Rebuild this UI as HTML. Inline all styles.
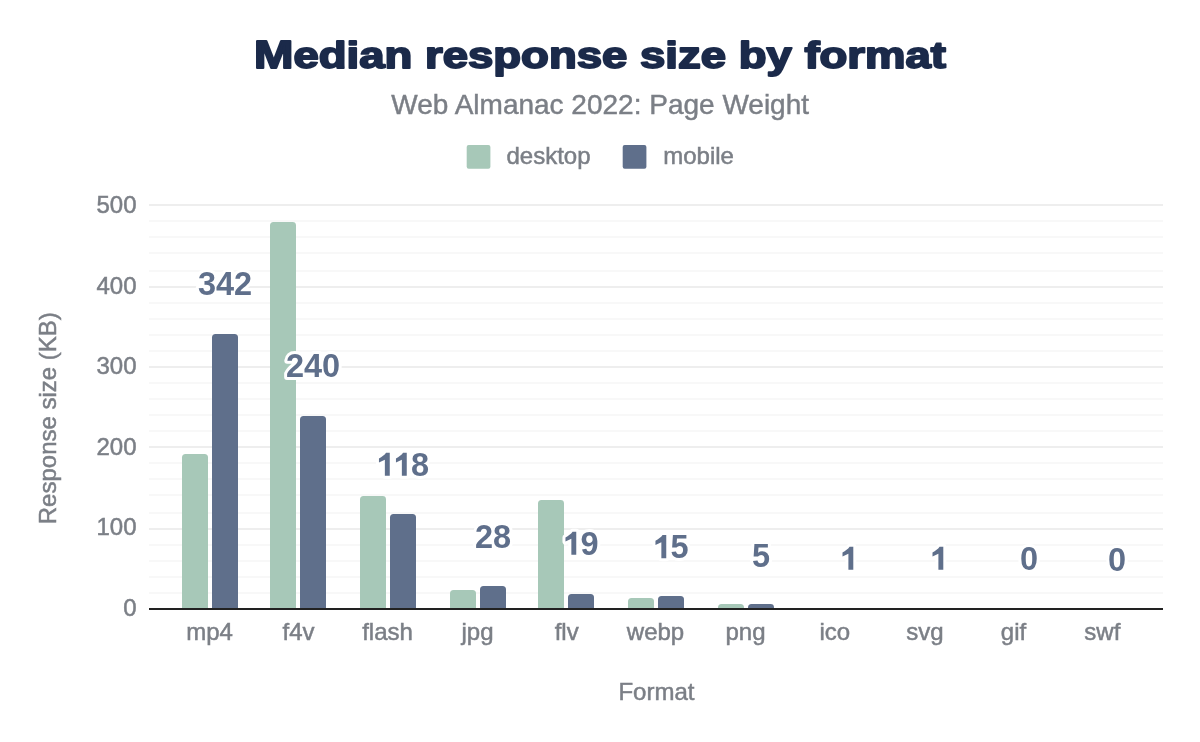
<!DOCTYPE html>
<html><head><meta charset="utf-8"><style>
html,body{margin:0;padding:0;background:#fff;width:1200px;height:742px;overflow:hidden}
svg{display:block;will-change:transform}
text{font-family:"Liberation Sans",sans-serif}
.title{font-weight:bold;font-size:37.5px;fill:#1b2a4a;stroke:#1b2a4a;stroke-width:1.9px;stroke-linejoin:round}
.sub{font-size:28px;fill:#7b7f86;stroke:#7b7f86;stroke-width:0.45px}
.ax{font-size:24px;fill:#7b7f86;stroke:#7b7f86;stroke-width:0.5px}
.dl{font-weight:bold;font-size:33px}
.dlh{fill:none;stroke:#fff;stroke-width:6px;stroke-linejoin:round}
.dlf{fill:#5f6f8b;stroke:none}
.dlh .hid{stroke:none} .dlf .hid{fill:none}
.oneh{fill:none;stroke:#fff;stroke-width:6px;stroke-linejoin:round}
.onef{fill:#5f6f8b}
</style></head><body>
<svg width="1200" height="742" viewBox="0 0 1200 742">
<rect width="1200" height="742" fill="#fff"/>
<text x="600" y="68.4" class="title" text-anchor="middle" textLength="692" lengthAdjust="spacingAndGlyphs"><tspan style="font-size:39px">M</tspan>edian response size by format</text>
<text transform="translate(600.2,114.3) scale(1,1)" text-anchor="middle" class="sub">Web Almanac 2022: Page Weight</text>
<rect x="466.7" y="145" width="23.7" height="23.7" rx="2" fill="#a7c8b8"/>
<text transform="translate(506.5,163.6) scale(1,1)" text-anchor="start" class="ax">desktop</text>
<rect x="622.7" y="145" width="23.7" height="23.7" rx="2" fill="#5f6f8b"/>
<text transform="translate(663.2,163.6) scale(1,1)" text-anchor="start" class="ax">mobile</text>
<rect x="149" y="592" width="1014" height="2" fill="#f8f8f8"/><rect x="149" y="576" width="1014" height="2" fill="#f8f8f8"/><rect x="149" y="560" width="1014" height="2" fill="#f8f8f8"/><rect x="149" y="544" width="1014" height="2" fill="#f8f8f8"/><rect x="149" y="528" width="1014" height="2" fill="#eeeeee"/><rect x="149" y="512" width="1014" height="2" fill="#f8f8f8"/><rect x="149" y="494" width="1014" height="2" fill="#f8f8f8"/><rect x="149" y="478" width="1014" height="2" fill="#f8f8f8"/><rect x="149" y="462" width="1014" height="2" fill="#f8f8f8"/><rect x="149" y="446" width="1014" height="2" fill="#eeeeee"/><rect x="149" y="430" width="1014" height="2" fill="#f8f8f8"/><rect x="149" y="414" width="1014" height="2" fill="#f8f8f8"/><rect x="149" y="398" width="1014" height="2" fill="#f8f8f8"/><rect x="149" y="382" width="1014" height="2" fill="#f8f8f8"/><rect x="149" y="366" width="1014" height="2" fill="#eeeeee"/><rect x="149" y="350" width="1014" height="2" fill="#f8f8f8"/><rect x="149" y="334" width="1014" height="2" fill="#f8f8f8"/><rect x="149" y="318" width="1014" height="2" fill="#f8f8f8"/><rect x="149" y="302" width="1014" height="2" fill="#f8f8f8"/><rect x="149" y="286" width="1014" height="2" fill="#eeeeee"/><rect x="149" y="270" width="1014" height="2" fill="#f8f8f8"/><rect x="149" y="252" width="1014" height="2" fill="#f8f8f8"/><rect x="149" y="236" width="1014" height="2" fill="#f8f8f8"/><rect x="149" y="220" width="1014" height="2" fill="#f8f8f8"/><rect x="149" y="204" width="1014" height="2" fill="#eeeeee"/>
<path d="M182,608 V457.5 A3.5,3.5 0 0 1 185.5,454 H204.5 A3.5,3.5 0 0 1 208,457.5 V608 Z" fill="#a7c8b8"/><path d="M212,608 V337.5 A3.5,3.5 0 0 1 215.5,334 H234.5 A3.5,3.5 0 0 1 238,337.5 V608 Z" fill="#5f6f8b"/><path d="M270,608 V225.5 A3.5,3.5 0 0 1 273.5,222 H292.5 A3.5,3.5 0 0 1 296,225.5 V608 Z" fill="#a7c8b8"/><path d="M300,608 V419.5 A3.5,3.5 0 0 1 303.5,416 H322.5 A3.5,3.5 0 0 1 326,419.5 V608 Z" fill="#5f6f8b"/><path d="M360,608 V499.5 A3.5,3.5 0 0 1 363.5,496 H382.5 A3.5,3.5 0 0 1 386,499.5 V608 Z" fill="#a7c8b8"/><path d="M390,608 V517.5 A3.5,3.5 0 0 1 393.5,514 H412.5 A3.5,3.5 0 0 1 416,517.5 V608 Z" fill="#5f6f8b"/><path d="M450,608 V593.5 A3.5,3.5 0 0 1 453.5,590 H472.5 A3.5,3.5 0 0 1 476,593.5 V608 Z" fill="#a7c8b8"/><path d="M480,608 V589.5 A3.5,3.5 0 0 1 483.5,586 H502.5 A3.5,3.5 0 0 1 506,589.5 V608 Z" fill="#5f6f8b"/><path d="M538,608 V503.5 A3.5,3.5 0 0 1 541.5,500 H560.5 A3.5,3.5 0 0 1 564,503.5 V608 Z" fill="#a7c8b8"/><path d="M568,608 V597.5 A3.5,3.5 0 0 1 571.5,594 H590.5 A3.5,3.5 0 0 1 594,597.5 V608 Z" fill="#5f6f8b"/><path d="M628,608 V601.5 A3.5,3.5 0 0 1 631.5,598 H650.5 A3.5,3.5 0 0 1 654,601.5 V608 Z" fill="#a7c8b8"/><path d="M658,608 V599.5 A3.5,3.5 0 0 1 661.5,596 H680.5 A3.5,3.5 0 0 1 684,599.5 V608 Z" fill="#5f6f8b"/><path d="M718,608 V607.5 A3.5,3.5 0 0 1 721.5,604 H740.5 A3.5,3.5 0 0 1 744,607.5 V608 Z" fill="#a7c8b8"/><path d="M748,608 V607.5 A3.5,3.5 0 0 1 751.5,604 H770.5 A3.5,3.5 0 0 1 774,607.5 V608 Z" fill="#5f6f8b"/>
<rect x="149" y="608" width="1014" height="2" fill="#222"/>
<text transform="translate(225,295.0) scale(0.985,1)" text-anchor="middle" class="dl dlh">342</text><text transform="translate(313,376.90000000000003) scale(0.985,1)" text-anchor="middle" class="dl dlh">240</text><path transform="translate(376.96,475.8)" d="M12.8,-23.1 V0 H7.9 V-16 L2.0,-13.2 V-17.4 C5,-19 7.5,-20.8 9.1,-23.1 Z" class="oneh"/><path transform="translate(393.96,475.8)" d="M12.8,-23.1 V0 H7.9 V-16 L2.0,-13.2 V-17.4 C5,-19 7.5,-20.8 9.1,-23.1 Z" class="oneh"/><text transform="translate(410.96,475.8) scale(0.985,1)" class="dl dlh">8</text><text transform="translate(493,547.8) scale(0.985,1)" text-anchor="middle" class="dl dlh">28</text><path transform="translate(563.46,554.8)" d="M12.8,-23.1 V0 H7.9 V-16 L2.0,-13.2 V-17.4 C5,-19 7.5,-20.8 9.1,-23.1 Z" class="oneh"/><text transform="translate(580.46,554.8) scale(0.985,1)" class="dl dlh">9</text><path transform="translate(653.46,558.1999999999999)" d="M12.8,-23.1 V0 H7.9 V-16 L2.0,-13.2 V-17.4 C5,-19 7.5,-20.8 9.1,-23.1 Z" class="oneh"/><text transform="translate(670.46,558.1999999999999) scale(0.985,1)" class="dl dlh">5</text><text transform="translate(761,567.1999999999999) scale(0.985,1)" text-anchor="middle" class="dl dlh">5</text><path transform="translate(840.50,569.8)" d="M12.8,-23.1 V0 H7.9 V-16 L2.0,-13.2 V-17.4 C5,-19 7.5,-20.8 9.1,-23.1 Z" class="oneh"/><path transform="translate(930.50,569.8)" d="M12.8,-23.1 V0 H7.9 V-16 L2.0,-13.2 V-17.4 C5,-19 7.5,-20.8 9.1,-23.1 Z" class="oneh"/><text transform="translate(1029,569.8) scale(0.985,1)" text-anchor="middle" class="dl dlh">0</text><text transform="translate(1117,570.8) scale(0.985,1)" text-anchor="middle" class="dl dlh">0</text><text transform="translate(225,295.0) scale(0.985,1)" text-anchor="middle" class="dl dlf">342</text><text transform="translate(313,376.90000000000003) scale(0.985,1)" text-anchor="middle" class="dl dlf">240</text><path transform="translate(376.96,475.8)" d="M12.8,-23.1 V0 H7.9 V-16 L2.0,-13.2 V-17.4 C5,-19 7.5,-20.8 9.1,-23.1 Z" class="onef"/><path transform="translate(393.96,475.8)" d="M12.8,-23.1 V0 H7.9 V-16 L2.0,-13.2 V-17.4 C5,-19 7.5,-20.8 9.1,-23.1 Z" class="onef"/><text transform="translate(410.96,475.8) scale(0.985,1)" class="dl dlf">8</text><text transform="translate(493,547.8) scale(0.985,1)" text-anchor="middle" class="dl dlf">28</text><path transform="translate(563.46,554.8)" d="M12.8,-23.1 V0 H7.9 V-16 L2.0,-13.2 V-17.4 C5,-19 7.5,-20.8 9.1,-23.1 Z" class="onef"/><text transform="translate(580.46,554.8) scale(0.985,1)" class="dl dlf">9</text><path transform="translate(653.46,558.1999999999999)" d="M12.8,-23.1 V0 H7.9 V-16 L2.0,-13.2 V-17.4 C5,-19 7.5,-20.8 9.1,-23.1 Z" class="onef"/><text transform="translate(670.46,558.1999999999999) scale(0.985,1)" class="dl dlf">5</text><text transform="translate(761,567.1999999999999) scale(0.985,1)" text-anchor="middle" class="dl dlf">5</text><path transform="translate(840.50,569.8)" d="M12.8,-23.1 V0 H7.9 V-16 L2.0,-13.2 V-17.4 C5,-19 7.5,-20.8 9.1,-23.1 Z" class="onef"/><path transform="translate(930.50,569.8)" d="M12.8,-23.1 V0 H7.9 V-16 L2.0,-13.2 V-17.4 C5,-19 7.5,-20.8 9.1,-23.1 Z" class="onef"/><text transform="translate(1029,569.8) scale(0.985,1)" text-anchor="middle" class="dl dlf">0</text><text transform="translate(1117,570.8) scale(0.985,1)" text-anchor="middle" class="dl dlf">0</text>
<text transform="translate(209.5,640) scale(1,1)" text-anchor="middle" class="ax">mp4</text><text transform="translate(298.5,640) scale(1,1)" text-anchor="middle" class="ax">f4v</text><text transform="translate(387.5,640) scale(1,1)" text-anchor="middle" class="ax">flash</text><text transform="translate(477.5,640) scale(1,1)" text-anchor="middle" class="ax">jpg</text><text transform="translate(566.7,640) scale(1,1)" text-anchor="middle" class="ax">flv</text><text transform="translate(655.5,640) scale(1,1)" text-anchor="middle" class="ax">webp</text><text transform="translate(745.5,640) scale(1,1)" text-anchor="middle" class="ax">png</text><text transform="translate(834.8,640) scale(1,1)" text-anchor="middle" class="ax">ico</text><text transform="translate(924.8,640) scale(1,1)" text-anchor="middle" class="ax">svg</text><text transform="translate(1013.5,640) scale(1,1)" text-anchor="middle" class="ax">gif</text><text transform="translate(1102.3,640) scale(1,1)" text-anchor="middle" class="ax">swf</text>
<text transform="translate(136.5,616.0) scale(1,1)" text-anchor="end" class="ax">0</text><text transform="translate(136.5,535.4) scale(1,1)" text-anchor="end" class="ax">100</text><text transform="translate(136.5,454.79999999999995) scale(1,1)" text-anchor="end" class="ax">200</text><text transform="translate(136.5,374.2) scale(1,1)" text-anchor="end" class="ax">300</text><text transform="translate(136.5,293.59999999999997) scale(1,1)" text-anchor="end" class="ax">400</text><text transform="translate(136.5,213.0) scale(1,1)" text-anchor="end" class="ax">500</text>
<text transform="translate(656.4,700) scale(1,1)" text-anchor="middle" class="ax">Format</text>
<text transform="translate(56.1,418.2) rotate(-90) scale(1,1)" text-anchor="middle" class="ax">Response size (KB)</text>
</svg>
</body></html>
